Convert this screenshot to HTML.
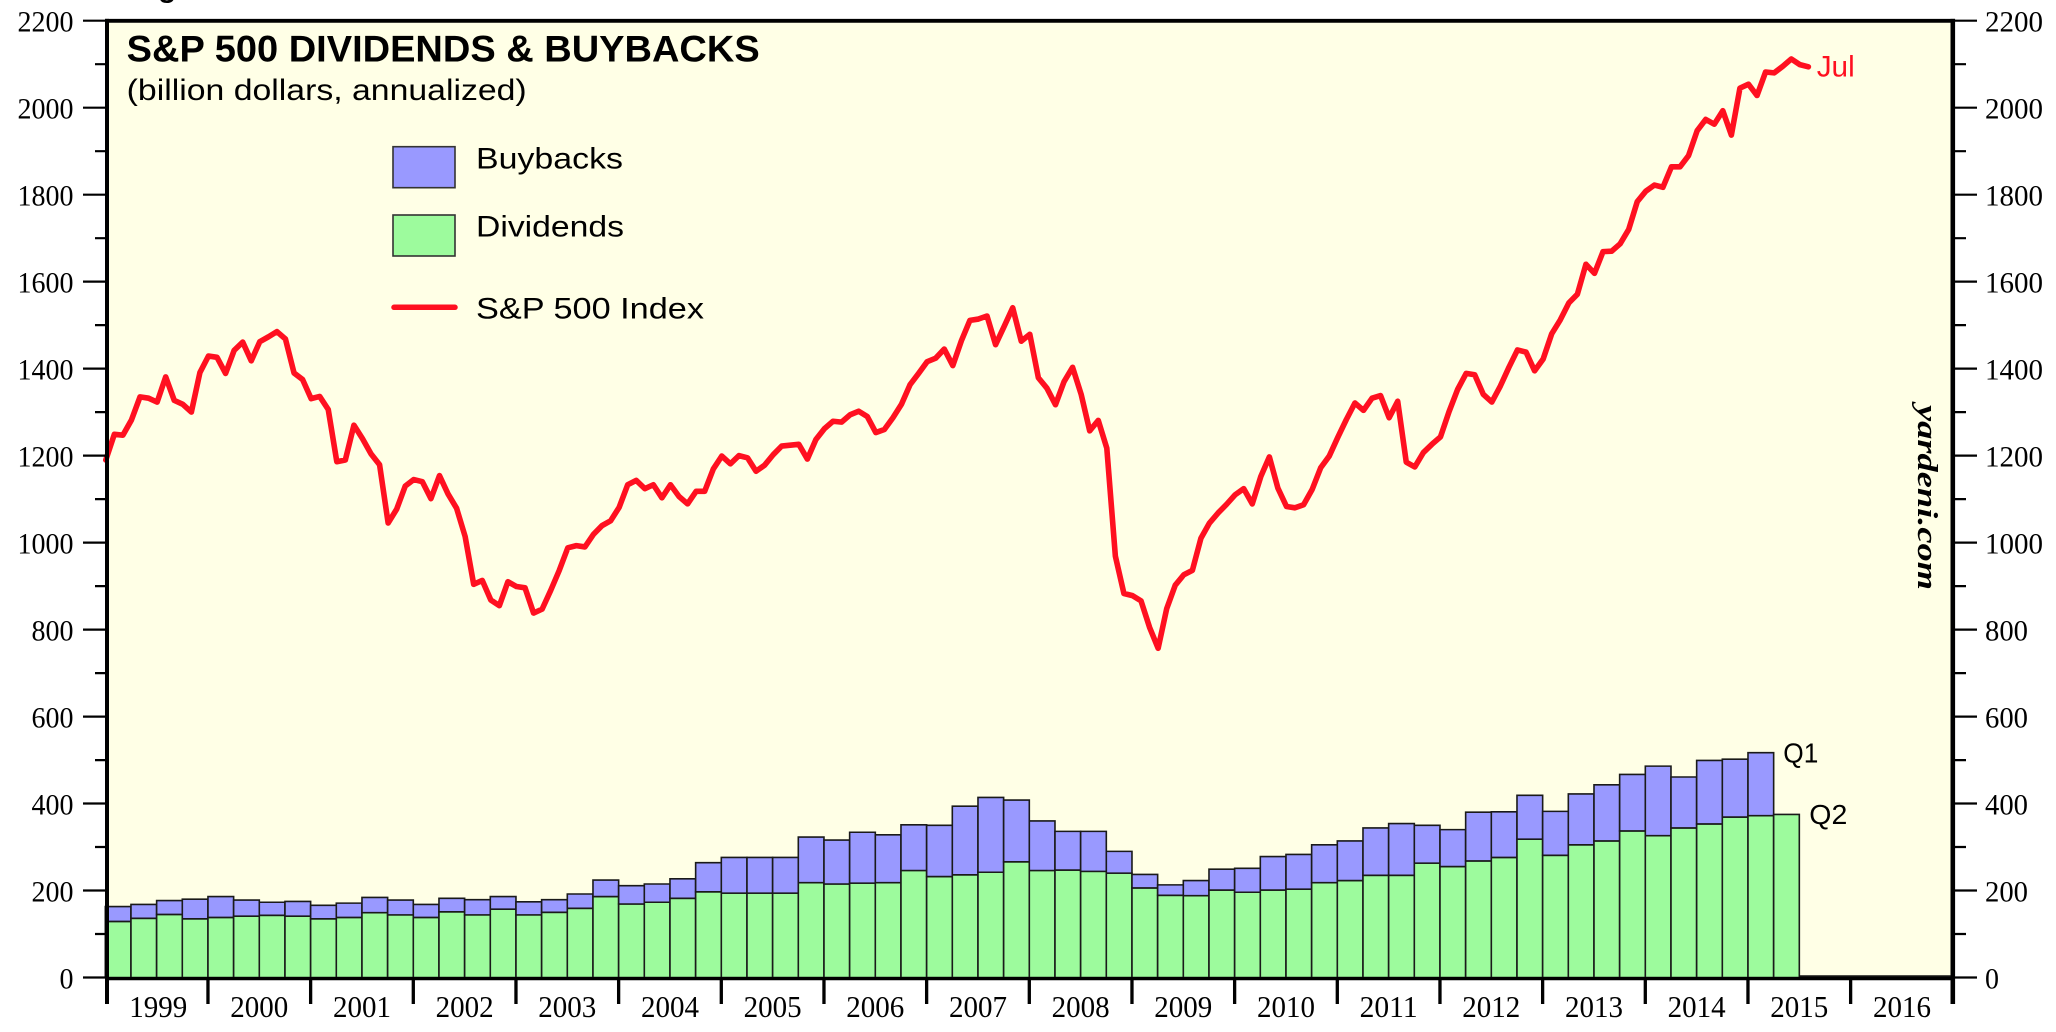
<!DOCTYPE html>
<html><head><meta charset="utf-8"><style>
html,body{margin:0;padding:0;background:#fff;}
svg{display:block;}
.sans{font-family:"Liberation Sans",Arial,sans-serif;}
.serif{font-family:"Liberation Serif","Times New Roman",serif;}
.b{fill:#9999ff;stroke:#1a1a1a;stroke-width:1.6;vector-effect:non-scaling-stroke;}
.d{fill:#9dfb9d;stroke:#1a1a1a;stroke-width:1.6;vector-effect:non-scaling-stroke;}
</style></head><body>
<svg width="2056" height="1032" viewBox="0 0 2056 1032" xmlns="http://www.w3.org/2000/svg">
<rect x="0" y="0" width="2056" height="1032" fill="#fff"/>
<text class="sans" x="131.3" y="-3" font-size="30" font-weight="bold">Fig</text>
<rect x="107" y="20.7" width="1846" height="956.8" fill="#ffffe6"/>

<g transform="translate(105.3,977.5) scale(25.667,-0.43491)">
<rect class="d" x="0" width="1" height="129"/><rect class="b" x="0" y="129" width="1" height="34"/>
<rect class="d" x="1" width="1" height="136"/><rect class="b" x="1" y="136" width="1" height="32"/>
<rect class="d" x="2" width="1" height="145"/><rect class="b" x="2" y="145" width="1" height="32"/>
<rect class="d" x="3" width="1" height="135"/><rect class="b" x="3" y="135" width="1" height="45"/>
<rect class="d" x="4" width="1" height="138"/><rect class="b" x="4" y="138" width="1" height="48"/>
<rect class="d" x="5" width="1" height="141"/><rect class="b" x="5" y="141" width="1" height="37"/>
<rect class="d" x="6" width="1" height="143"/><rect class="b" x="6" y="143" width="1" height="30"/>
<rect class="d" x="7" width="1" height="141"/><rect class="b" x="7" y="141" width="1" height="34"/>
<rect class="d" x="8" width="1" height="135"/><rect class="b" x="8" y="135" width="1" height="31"/>
<rect class="d" x="9" width="1" height="138"/><rect class="b" x="9" y="138" width="1" height="33"/>
<rect class="d" x="10" width="1" height="149"/><rect class="b" x="10" y="149" width="1" height="35"/>
<rect class="d" x="11" width="1" height="144"/><rect class="b" x="11" y="144" width="1" height="34"/>
<rect class="d" x="12" width="1" height="138"/><rect class="b" x="12" y="138" width="1" height="30"/>
<rect class="d" x="13" width="1" height="151"/><rect class="b" x="13" y="151" width="1" height="31"/>
<rect class="d" x="14" width="1" height="144"/><rect class="b" x="14" y="144" width="1" height="35"/>
<rect class="d" x="15" width="1" height="157"/><rect class="b" x="15" y="157" width="1" height="29"/>
<rect class="d" x="16" width="1" height="144"/><rect class="b" x="16" y="144" width="1" height="30"/>
<rect class="d" x="17" width="1" height="150"/><rect class="b" x="17" y="150" width="1" height="29"/>
<rect class="d" x="18" width="1" height="159"/><rect class="b" x="18" y="159" width="1" height="33"/>
<rect class="d" x="19" width="1" height="186"/><rect class="b" x="19" y="186" width="1" height="38"/>
<rect class="d" x="20" width="1" height="169"/><rect class="b" x="20" y="169" width="1" height="42"/>
<rect class="d" x="21" width="1" height="173"/><rect class="b" x="21" y="173" width="1" height="42"/>
<rect class="d" x="22" width="1" height="182"/><rect class="b" x="22" y="182" width="1" height="45"/>
<rect class="d" x="23" width="1" height="197"/><rect class="b" x="23" y="197" width="1" height="67"/>
<rect class="d" x="24" width="1" height="194"/><rect class="b" x="24" y="194" width="1" height="82"/>
<rect class="d" x="25" width="1" height="194"/><rect class="b" x="25" y="194" width="1" height="82"/>
<rect class="d" x="26" width="1" height="194"/><rect class="b" x="26" y="194" width="1" height="82"/>
<rect class="d" x="27" width="1" height="218"/><rect class="b" x="27" y="218" width="1" height="105"/>
<rect class="d" x="28" width="1" height="215"/><rect class="b" x="28" y="215" width="1" height="101"/>
<rect class="d" x="29" width="1" height="217"/><rect class="b" x="29" y="217" width="1" height="117"/>
<rect class="d" x="30" width="1" height="218"/><rect class="b" x="30" y="218" width="1" height="110"/>
<rect class="d" x="31" width="1" height="246"/><rect class="b" x="31" y="246" width="1" height="105"/>
<rect class="d" x="32" width="1" height="232"/><rect class="b" x="32" y="232" width="1" height="118"/>
<rect class="d" x="33" width="1" height="236"/><rect class="b" x="33" y="236" width="1" height="158"/>
<rect class="d" x="34" width="1" height="242"/><rect class="b" x="34" y="242" width="1" height="172"/>
<rect class="d" x="35" width="1" height="266"/><rect class="b" x="35" y="266" width="1" height="142"/>
<rect class="d" x="36" width="1" height="246"/><rect class="b" x="36" y="246" width="1" height="114"/>
<rect class="d" x="37" width="1" height="247"/><rect class="b" x="37" y="247" width="1" height="89"/>
<rect class="d" x="38" width="1" height="244"/><rect class="b" x="38" y="244" width="1" height="92"/>
<rect class="d" x="39" width="1" height="240"/><rect class="b" x="39" y="240" width="1" height="50"/>
<rect class="d" x="40" width="1" height="206"/><rect class="b" x="40" y="206" width="1" height="31"/>
<rect class="d" x="41" width="1" height="189"/><rect class="b" x="41" y="189" width="1" height="24"/>
<rect class="d" x="42" width="1" height="188"/><rect class="b" x="42" y="188" width="1" height="35"/>
<rect class="d" x="43" width="1" height="201"/><rect class="b" x="43" y="201" width="1" height="48"/>
<rect class="d" x="44" width="1" height="196"/><rect class="b" x="44" y="196" width="1" height="55"/>
<rect class="d" x="45" width="1" height="201"/><rect class="b" x="45" y="201" width="1" height="77"/>
<rect class="d" x="46" width="1" height="203"/><rect class="b" x="46" y="203" width="1" height="80"/>
<rect class="d" x="47" width="1" height="218"/><rect class="b" x="47" y="218" width="1" height="87"/>
<rect class="d" x="48" width="1" height="223"/><rect class="b" x="48" y="223" width="1" height="91"/>
<rect class="d" x="49" width="1" height="235"/><rect class="b" x="49" y="235" width="1" height="109"/>
<rect class="d" x="50" width="1" height="235"/><rect class="b" x="50" y="235" width="1" height="119"/>
<rect class="d" x="51" width="1" height="263"/><rect class="b" x="51" y="263" width="1" height="87"/>
<rect class="d" x="52" width="1" height="255"/><rect class="b" x="52" y="255" width="1" height="85"/>
<rect class="d" x="53" width="1" height="268"/><rect class="b" x="53" y="268" width="1" height="112"/>
<rect class="d" x="54" width="1" height="276"/><rect class="b" x="54" y="276" width="1" height="105"/>
<rect class="d" x="55" width="1" height="318"/><rect class="b" x="55" y="318" width="1" height="101"/>
<rect class="d" x="56" width="1" height="281"/><rect class="b" x="56" y="281" width="1" height="101"/>
<rect class="d" x="57" width="1" height="305"/><rect class="b" x="57" y="305" width="1" height="117"/>
<rect class="d" x="58" width="1" height="314"/><rect class="b" x="58" y="314" width="1" height="129"/>
<rect class="d" x="59" width="1" height="337"/><rect class="b" x="59" y="337" width="1" height="130"/>
<rect class="d" x="60" width="1" height="326"/><rect class="b" x="60" y="326" width="1" height="160"/>
<rect class="d" x="61" width="1" height="344"/><rect class="b" x="61" y="344" width="1" height="117"/>
<rect class="d" x="62" width="1" height="353"/><rect class="b" x="62" y="353" width="1" height="146"/>
<rect class="d" x="63" width="1" height="369"/><rect class="b" x="63" y="369" width="1" height="133"/>
<rect class="d" x="64" width="1" height="372"/><rect class="b" x="64" y="372" width="1" height="145"/>
<rect class="d" x="65" width="1" height="375"/>
</g>

<!-- S&P 500 line -->
<polyline transform="translate(105.8,977.5) scale(8.5556,-0.43491)" fill="none" stroke="#ff1020" stroke-width="5.6" vector-effect="non-scaling-stroke" stroke-linejoin="round" stroke-linecap="round" points="
0,1190 1,1249 2,1247 3,1282 4,1335 5,1332 6,1323 7,1381 8,1327 9,1318 10,1300 11,1391 12,1429
13,1426 14,1389 15,1442 16,1461 17,1418 18,1462 19,1473 20,1485 21,1468 22,1390 23,1375 24,1331
25,1336 26,1306 27,1186 28,1190 29,1270 30,1239 31,1204 32,1179 33,1045 34,1077 35,1130 36,1145
37,1140 38,1101 39,1154 40,1112 41,1079 42,1014 43,904 44,913 45,868 46,855 47,910 48,899
49,896 50,838 51,847 52,890 53,936 54,988 55,993 56,990 57,1019 58,1039 59,1050 60,1081
61,1133 62,1143 63,1124 64,1133 65,1103 66,1133 67,1106 68,1089 69,1118 70,1118 71,1169 72,1199
73,1181 74,1200 75,1195 76,1164 77,1178 78,1202 79,1222 80,1224 81,1226 82,1192 83,1237 84,1262
85,1279 86,1277 87,1294 88,1302 89,1290 90,1253 91,1260 92,1287 93,1318 94,1363 95,1389 96,1416
97,1424 98,1445 99,1407 100,1464 101,1511 102,1514 103,1521 104,1455 105,1497 106,1540 107,1463 108,1479
109,1379 110,1355 111,1317 112,1370 113,1403 114,1341 115,1257 116,1281 117,1217 118,969 119,883 120,878
121,866 122,805 123,757 124,848 125,902 126,926 127,936 128,1010 129,1045 130,1068 131,1088 132,1110
133,1124 134,1089 135,1152 136,1197 137,1125 138,1083 139,1080 140,1087 141,1122 142,1172 143,1199 144,1242
145,1283 146,1321 147,1304 148,1332 149,1338 150,1287 151,1325 152,1185 153,1174 154,1207 155,1226 156,1243
157,1301 158,1352 159,1389 160,1386 161,1341 162,1323 163,1360 164,1403 165,1443 166,1438 167,1395 168,1422
169,1480 170,1512 171,1551 172,1571 173,1640 174,1619 175,1669 176,1670 177,1687 178,1720 179,1784 180,1808
181,1822 182,1817 183,1864 184,1864 185,1890 186,1947 187,1973 188,1962 189,1993 190,1937 191,2045 192,2054
193,2028 194,2082 195,2080 196,2095 197,2112 198,2099 199,2094"/>

<!-- zero bars after 2015Q2 -->
<line x1="1799" y1="976.3" x2="1953" y2="976.3" stroke="#111" stroke-width="2.2"/>

<!-- frame -->
<line x1="105" y1="20.8" x2="1955" y2="20.8" stroke="#000" stroke-width="3.8"/>
<line x1="107" y1="18.9" x2="107" y2="1004" stroke="#000" stroke-width="4"/>
<line x1="1952.8" y1="18.9" x2="1952.8" y2="1004" stroke="#000" stroke-width="4.6"/>
<line x1="105" y1="978.6" x2="1955" y2="978.6" stroke="#000" stroke-width="3.2"/>

<!-- left ticks -->
<path stroke="#000" stroke-width="2.2" fill="none" d="
M83,977.5H105 M95,934.0H105 M83,890.5H105 M95,847.0H105 M83,803.5H105 M95,760.1H105
M83,716.6H105 M95,673.1H105 M83,629.6H105 M95,586.1H105 M83,542.6H105 M95,499.1H105
M83,455.6H105 M95,412.1H105 M83,368.6H105 M95,325.1H105 M83,281.6H105 M95,238.2H105
M83,194.7H105 M95,151.2H105 M83,107.7H105 M95,64.2H105 M83,20.7H105"/>
<!-- right ticks -->
<path stroke="#000" stroke-width="2.2" fill="none" d="
M1955,977.5H1977 M1955,934.0H1966 M1955,890.5H1977 M1955,847.0H1966 M1955,803.5H1977 M1955,760.1H1966
M1955,716.6H1977 M1955,673.1H1966 M1955,629.6H1977 M1955,586.1H1966 M1955,542.6H1977 M1955,499.1H1966
M1955,455.6H1977 M1955,412.1H1966 M1955,368.6H1977 M1955,325.1H1966 M1955,281.6H1977 M1955,238.2H1966
M1955,194.7H1977 M1955,151.2H1966 M1955,107.7H1977 M1955,64.2H1966 M1955,20.7H1977"/>
<!-- year ticks -->
<path stroke="#000" stroke-width="3.3" fill="none" d="
M207.97,978V1004 M310.63,978V1004 M413.3,978V1004 M515.97,978V1004 M618.63,978V1004 M721.3,978V1004
M823.97,978V1004 M926.63,978V1004 M1029.3,978V1004 M1131.97,978V1004 M1234.63,978V1004 M1337.3,978V1004
M1439.97,978V1004 M1542.63,978V1004 M1645.3,978V1004 M1747.97,978V1004 M1850.63,978V1004"/>

<!-- left labels -->
<g class="serif" font-size="30" text-anchor="end" fill="#000">
<text x="73.5" y="988.3" textLength="14" lengthAdjust="spacingAndGlyphs">0</text>
<text x="73.5" y="901.3" textLength="42" lengthAdjust="spacingAndGlyphs">200</text>
<text x="73.5" y="814.3" textLength="42" lengthAdjust="spacingAndGlyphs">400</text>
<text x="73.5" y="727.3" textLength="42" lengthAdjust="spacingAndGlyphs">600</text>
<text x="73.5" y="640.3" textLength="42" lengthAdjust="spacingAndGlyphs">800</text>
<text x="73.5" y="553.3" textLength="56" lengthAdjust="spacingAndGlyphs">1000</text>
<text x="73.5" y="466.6" textLength="56" lengthAdjust="spacingAndGlyphs">1200</text>
<text x="73.5" y="379.4" textLength="56" lengthAdjust="spacingAndGlyphs">1400</text>
<text x="73.5" y="292.4" textLength="56" lengthAdjust="spacingAndGlyphs">1600</text>
<text x="73.5" y="205.4" textLength="56" lengthAdjust="spacingAndGlyphs">1800</text>
<text x="73.5" y="118.4" textLength="56" lengthAdjust="spacingAndGlyphs">2000</text>
<text x="73.5" y="31.5" textLength="56" lengthAdjust="spacingAndGlyphs">2200</text>
</g>
<!-- right labels -->
<g class="serif" font-size="30" text-anchor="start" fill="#000">
<text x="1985" y="988.3" textLength="14" lengthAdjust="spacingAndGlyphs">0</text>
<text x="1985" y="901.3" textLength="43" lengthAdjust="spacingAndGlyphs">200</text>
<text x="1985" y="814.3" textLength="43" lengthAdjust="spacingAndGlyphs">400</text>
<text x="1985" y="727.3" textLength="43" lengthAdjust="spacingAndGlyphs">600</text>
<text x="1985" y="640.3" textLength="43" lengthAdjust="spacingAndGlyphs">800</text>
<text x="1985" y="553.3" textLength="58" lengthAdjust="spacingAndGlyphs">1000</text>
<text x="1985" y="466.6" textLength="58" lengthAdjust="spacingAndGlyphs">1200</text>
<text x="1985" y="379.4" textLength="58" lengthAdjust="spacingAndGlyphs">1400</text>
<text x="1985" y="292.4" textLength="58" lengthAdjust="spacingAndGlyphs">1600</text>
<text x="1985" y="205.4" textLength="58" lengthAdjust="spacingAndGlyphs">1800</text>
<text x="1985" y="118.4" textLength="58" lengthAdjust="spacingAndGlyphs">2000</text>
<text x="1985" y="31.5" textLength="58" lengthAdjust="spacingAndGlyphs">2200</text>
</g>
<!-- year labels -->
<g class="serif" font-size="31" fill="#000">
<text x="129.3" y="1017" textLength="58" lengthAdjust="spacingAndGlyphs">1999</text>
<text x="230.3" y="1017" textLength="58" lengthAdjust="spacingAndGlyphs">2000</text>
<text x="333.0" y="1017" textLength="58" lengthAdjust="spacingAndGlyphs">2001</text>
<text x="435.6" y="1017" textLength="58" lengthAdjust="spacingAndGlyphs">2002</text>
<text x="538.3" y="1017" textLength="58" lengthAdjust="spacingAndGlyphs">2003</text>
<text x="641.0" y="1017" textLength="58" lengthAdjust="spacingAndGlyphs">2004</text>
<text x="743.6" y="1017" textLength="58" lengthAdjust="spacingAndGlyphs">2005</text>
<text x="846.3" y="1017" textLength="58" lengthAdjust="spacingAndGlyphs">2006</text>
<text x="949.0" y="1017" textLength="58" lengthAdjust="spacingAndGlyphs">2007</text>
<text x="1051.6" y="1017" textLength="58" lengthAdjust="spacingAndGlyphs">2008</text>
<text x="1154.3" y="1017" textLength="58" lengthAdjust="spacingAndGlyphs">2009</text>
<text x="1257.0" y="1017" textLength="58" lengthAdjust="spacingAndGlyphs">2010</text>
<text x="1359.6" y="1017" textLength="58" lengthAdjust="spacingAndGlyphs">2011</text>
<text x="1462.3" y="1017" textLength="58" lengthAdjust="spacingAndGlyphs">2012</text>
<text x="1565.0" y="1017" textLength="58" lengthAdjust="spacingAndGlyphs">2013</text>
<text x="1667.6" y="1017" textLength="58" lengthAdjust="spacingAndGlyphs">2014</text>
<text x="1770.3" y="1017" textLength="58" lengthAdjust="spacingAndGlyphs">2015</text>
<text x="1873.0" y="1017" textLength="58" lengthAdjust="spacingAndGlyphs">2016</text>
</g>

<!-- title -->
<text class="sans" x="126.7" y="61.7" font-size="37" font-weight="bold" textLength="633" lengthAdjust="spacingAndGlyphs">S&amp;P 500 DIVIDENDS &amp; BUYBACKS</text>
<text class="sans" x="126.7" y="100" font-size="30" textLength="400" lengthAdjust="spacingAndGlyphs">(billion dollars, annualized)</text>

<!-- legend -->
<rect x="393" y="146.7" width="62" height="41" fill="#9999ff" stroke="#333" stroke-width="1.6"/>
<rect x="393" y="215" width="62" height="41" fill="#9dfb9d" stroke="#333" stroke-width="1.6"/>
<line x1="394" y1="307.3" x2="455" y2="307.3" stroke="#ff1020" stroke-width="5.5" stroke-linecap="round"/>
<text class="sans" x="476" y="168.3" font-size="30" textLength="147" lengthAdjust="spacingAndGlyphs">Buybacks</text>
<text class="sans" x="476" y="236.7" font-size="30" textLength="148" lengthAdjust="spacingAndGlyphs">Dividends</text>
<text class="sans" x="476" y="318.3" font-size="30" textLength="228" lengthAdjust="spacingAndGlyphs">S&amp;P 500 Index</text>

<!-- annotations -->
<text class="sans" x="1816.7" y="76.7" font-size="30" fill="#ff1020" textLength="38" lengthAdjust="spacingAndGlyphs">Jul</text>
<text class="sans" x="1783.3" y="762.7" font-size="28" textLength="35" lengthAdjust="spacingAndGlyphs">Q1</text>
<text class="sans" x="1809.3" y="824" font-size="28" textLength="38" lengthAdjust="spacingAndGlyphs">Q2</text>

<text class="serif" transform="translate(1918,405) rotate(90)" font-size="28" font-weight="bold" font-style="italic" textLength="185" lengthAdjust="spacingAndGlyphs">yardeni.com</text>
</svg>
</body></html>
